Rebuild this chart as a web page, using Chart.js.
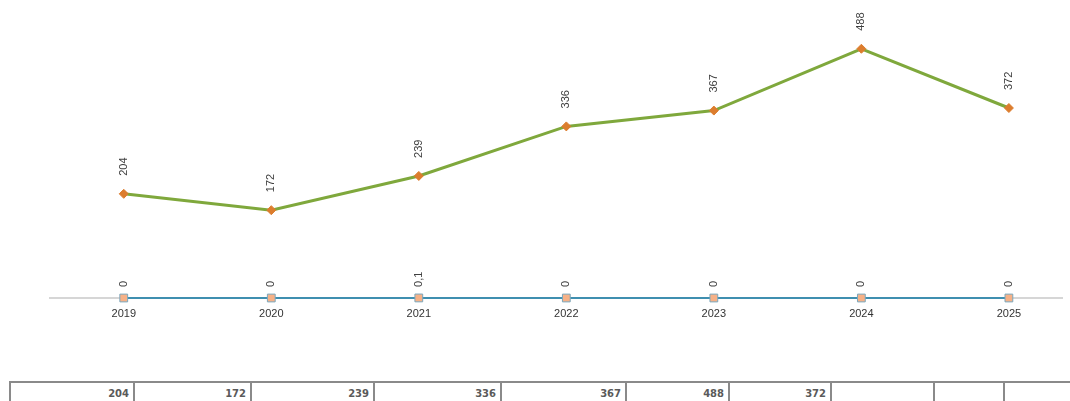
<!DOCTYPE html>
<html>
<head>
<meta charset="utf-8">
<script src="https://cdn.jsdelivr.net/npm/chart.js@4/dist/chart.umd.min.js"></script>
<style>
    html, body { margin: 0; padding: 0; background: #fff; width: 1070px; height: 401px; overflow: hidden; }
    #wrap { position: absolute; left: 0; top: 0; width: 1070px; height: 340px; }
    #tabela { position: absolute; left: 9px; top: 381px; border-collapse: collapse; table-layout: fixed; }
    #tabela td {
        border: 2px solid #8a8a8a;
        height: 26px;
        padding: 0 4px 3px 0;
        text-align: right;
        font: bold 10px "DejaVu Sans", sans-serif;
        color: #5a5a5a;
        box-sizing: border-box;
    }
</style>
</head>
<body>
<div id="wrap"><canvas id="bieuDo" width="1070" height="340"></canvas></div>
<table id="tabela"><tr id="hang"></tr></table>
<script>
// dữ liệu
const nam = ['2019', '2020', '2021', '2022', '2023', '2024', '2025'];
const soLuong = [204, 172, 239, 336, 367, 488, 372];
const tyLe = [0, 0, 0.1, 0, 0, 0, 0];
const nhanTyLe = ['0', '0', '0,1', '0', '0', '0', '0'];

// bố cục bảng (độ rộng cột, px)
const doRongCot = [124, 117, 123, 127, 125, 103, 102, 103, 70, 80];

const bieuDoDOM = document.querySelector('#bieuDo');
const hangDOM = document.querySelector('#hang');

// nhãn xoay dọc phía trên mỗi điểm
const nhanDuLieu = {
    id: 'nhanDuLieu',
    afterDatasetsDraw(chart) {
        const { ctx } = chart;
        chart.data.datasets.forEach((ds, i) => {
            const meta = chart.getDatasetMeta(i);
            meta.data.forEach((pt, j) => {
                const text = ds.nhan ? ds.nhan[j] : String(ds.data[j].y);
                ctx.save();
                ctx.translate(pt.x, pt.y - ds.khoangNhan);
                ctx.rotate(-Math.PI / 2);
                ctx.font = '11px "Liberation Sans", sans-serif';
                ctx.fillStyle = '#404040';
                ctx.textAlign = 'left';
                ctx.textBaseline = 'middle';
                ctx.fillText(text, 0, 0);
                ctx.restore();
            });
        });
    }
};

const data = {
    datasets: [{
        label: 'Số lượng',
        data: soLuong.map((v, i) => ({ x: i, y: v })),
        borderColor: '#7fa83c',
        borderWidth: 3,
        pointStyle: 'rectRot',
        pointRadius: 4.5,
        pointBackgroundColor: '#dc7d2e',
        pointBorderColor: '#dc7d2e',
        pointBorderWidth: 1,
        tension: 0,
        clip: false,
        khoangNhan: 18
    }, {
        label: 'Tỷ lệ',
        data: tyLe.map((v, i) => ({ x: i, y: v })),
        nhan: nhanTyLe,
        borderColor: '#3f8fb0',
        borderWidth: 2,
        pointStyle: 'rect',
        pointRadius: 5.5,
        pointBackgroundColor: '#f6b187',
        pointBorderColor: '#7aa7bd',
        pointBorderWidth: 1,
        tension: 0,
        clip: false,
        khoangNhan: 11
    }]
};

new Chart(bieuDoDOM, {
    type: 'line',
    data: data,
    plugins: [nhanDuLieu],
    options: {
        responsive: false,
        animation: false,
        layout: { padding: { left: 50, right: 8, top: 12, bottom: 0 } },
        plugins: { legend: { display: false }, tooltip: { enabled: false } },
        scales: {
            x: {
                type: 'linear',
                min: -0.5,
                max: 6.36,
                afterBuildTicks: (s) => { s.ticks = nam.map((_, i) => ({ value: i })); },
                afterFit: (s) => { s.height = 42; },
                grid: { display: false, drawTicks: false },
                border: { display: true, color: '#d6d6d6', width: 2 },
                ticks: {
                    padding: 9,
                    color: '#333',
                    font: { family: '"Liberation Sans", sans-serif', size: 11 },
                    callback: (v) => nam[v] ?? ''
                }
            },
            y: {
                display: false,
                min: 0,
                max: 560
            }
        }
    }
});

// bảng số liệu bên dưới
doRongCot.forEach((w, i) => {
    const td = document.createElement('td');
    td.style.width = w + 'px';
    td.style.minWidth = w + 'px';
    td.textContent = i < soLuong.length ? soLuong[i] : '';
    hangDOM.appendChild(td);
});
</script>
</body>
</html>
